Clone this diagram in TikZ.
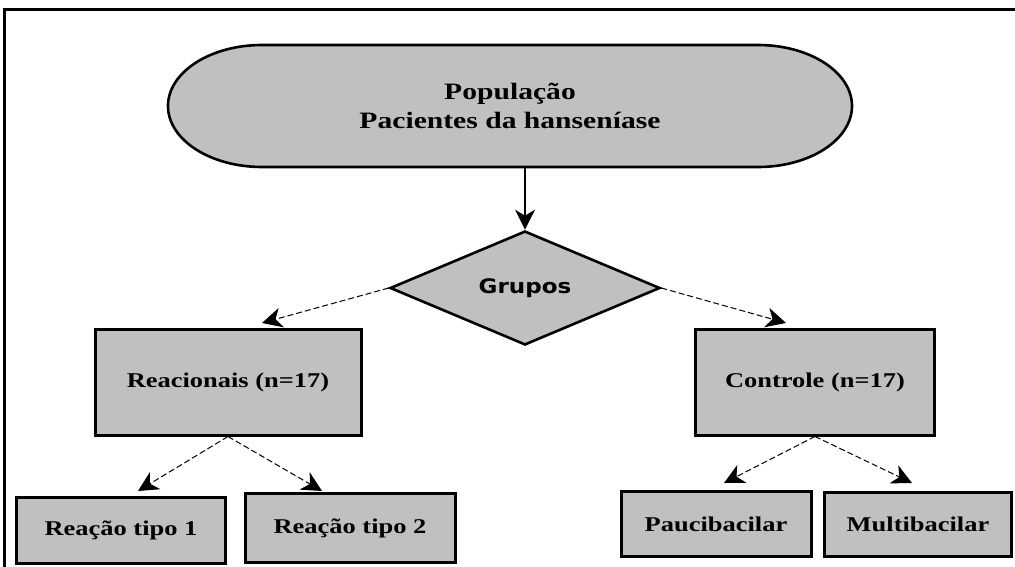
\documentclass[tikz,border=0pt]{standalone}
\usepackage{fontspec}
\setmainfont{Liberation Serif}[FakeStretch=1.26]
\newfontfamily\grfont{DejaVu Sans}[FakeStretch=1.15]
\usetikzlibrary{shapes.geometric,arrows.meta}
\definecolor{boxgray}{HTML}{C0C0C0}
\tikzset{
  box/.style={draw=black, fill=boxgray, line width=3pt, rectangle, inner sep=0pt,
    font=\fontsize{21}{25}\selectfont\bfseries},
  dashlink/.style={line width=1pt, dash pattern=on 6pt off 3pt,
    -{Stealth[length=20pt,width=20pt,inset=6pt]}},
  solidlink/.style={line width=1.1pt, -{Stealth[length=20pt,width=20pt,inset=6pt]}},
}
\begin{document}
\begin{tikzpicture}[x=1pt,y=-1pt]
\useasboundingbox (0,0) rectangle (1015,567);
% outer frame
\draw[line width=3pt] (4,10) rectangle (1030,590);

% top stadium
\node (pop) [minimum width=684pt, minimum height=122pt, inner sep=0pt] at (510,106) {};
\fill[boxgray, draw=black, line width=2.6pt]
  (262,45) -- (758,45) arc[start angle=-90, end angle=90, x radius=94, y radius=61]
  -- (262,167) arc[start angle=90, end angle=270, x radius=94, y radius=61] -- cycle;
\node[align=center, font=\fontsize{23.5}{29}\selectfont\bfseries] at (pop.center) {População\\Pacientes da hanseníase};

% decision
\node (grp) [diamond, draw=black, fill=boxgray, line width=2.6pt, inner sep=0pt,
  minimum width=270pt, minimum height=114pt, aspect=2.37,
  font=\grfont\fontsize{20}{24}\selectfont\bfseries] at (525,288) {Grupos};

% group boxes
\node (rea) [box, minimum width=266pt, minimum height=106pt] at (228,382) {Reacionais (n=17)};
\node (ctl) [box, minimum width=239pt, minimum height=106pt] at (815,382) {Controle (n=17)};

% subgroup boxes
\node (r1) [box, minimum width=209pt, minimum height=66pt] at (121,530) {Reação tipo 1};
\node (r2) [box, minimum width=210pt, minimum height=69pt] at (350,528) {Reação tipo 2};
\node (pb) [box, minimum width=190pt, minimum height=65pt] at (716,524) {Paucibacilar};
\node (mb) [box, minimum width=187pt, minimum height=64pt] at (918,524) {Multibacilar};

% arrow end points
\coordinate (tRea) at (262,323);
\coordinate (tCtl) at (786,323);
\coordinate (tR1) at (138,491);
\coordinate (tR2) at (322,491);
\coordinate (tPb) at (724,483);
\coordinate (tMb) at (912,483);

% connectors
\draw[solidlink] (525,167) -- (grp.north);
\draw[dashlink] (grp.west) -- (tRea);
\draw[dashlink] (grp.east) -- (tCtl);
\draw[dashlink] (rea.south) -- (tR1);
\draw[dashlink] (rea.south) -- (tR2);
\draw[dashlink] (ctl.south) -- (tPb);
\draw[dashlink] (ctl.south) -- (tMb);
\end{tikzpicture}
\end{document}
